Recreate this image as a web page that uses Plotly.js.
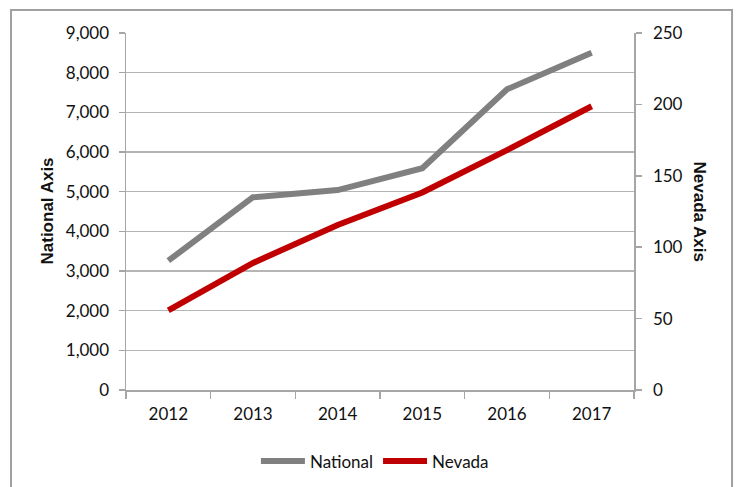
<!DOCTYPE html>
<html>
<head>
<meta charset="utf-8">
<script src="https://cdn.plot.ly/plotly-3.0.1.min.js"></script>
<style>
html,body{margin:0;padding:0;background:#fff;}
#chart{width:737px;height:487px;}
</style>
</head>
<body>
<div id="chart"></div>
<script>
const years = ['2012','2013','2014','2015','2016','2017'];
const national = [3260, 4860, 5040, 5590, 7580, 8500];
const nevada = [55.8, 89, 115.5, 138.3, 168, 198.7];
const leftTicks = [0,1000,2000,3000,4000,5000,6000,7000,8000,9000];
const rightTicks = [0,50,100,150,200,250];

const font = 'Lato, "Open Sans", sans-serif';
const titleFont = {family: '"Liberation Sans", Arial, sans-serif', size: 17, color: '#111', weight: 'bold'};
const axisCol = '#a6a6a6';

const traces = [
  {x: years, y: national, name: 'National', type: 'scatter', mode: 'lines',
   line: {color: '#808080', width: 6}, yaxis: 'y'},
  {x: years, y: nevada, name: 'Nevada', type: 'scatter', mode: 'lines',
   line: {color: '#c00000', width: 6}, yaxis: 'y2'}
];

const layout = {
  width: 737, height: 487,
  margin: {l: 126, r: 103, t: 33, b: 97, autoexpand: false},
  paper_bgcolor: '#fff', plot_bgcolor: '#fff',
  font: {family: font, size: 17, color: '#111'},
  showlegend: true,
  legend: {orientation: 'h', x: 0.49, xanchor: 'center', y: -0.2, yanchor: 'middle',
           itemwidth: 44, font: {family: font, size: 17, color: '#111'}},
  xaxis: {
    type: 'category', range: [-0.5, 5.5], tickson: 'boundaries', ticks: 'outside', ticklen: 7,
    tickcolor: axisCol, tickwidth: 1.5, showgrid: false, showline: true,
    linecolor: axisCol, linewidth: 1.5, zeroline: false, ticklabelstandoff: 8,
    tickfont: {family: font, size: 17, color: '#111'}
  },
  yaxis: {
    range: [0, 9000], tickvals: leftTicks, tickformat: ',d',
    ticks: 'outside', ticklen: 6, tickcolor: axisCol, tickwidth: 1.5,
    showgrid: true, gridcolor: '#b5b5b5', gridwidth: 1.5,
    showline: true, linecolor: axisCol, linewidth: 1.5, zeroline: false,
    ticklabelstandoff: 6,
    tickfont: {family: font, size: 17, color: '#111'}
  },
  yaxis2: {
    range: [0, 250], tickvals: rightTicks, overlaying: 'y', side: 'right',
    ticks: 'outside', ticklen: 6, tickcolor: axisCol, tickwidth: 1.5,
    showgrid: false, showline: true, linecolor: axisCol, linewidth: 1.5, zeroline: false,
    ticklabelstandoff: 8,
    tickfont: {family: font, size: 17, color: '#111'}
  },
  annotations: [
    {text: '<b>National Axis</b>', xref: 'paper', yref: 'paper', x: (47-126)/508, y: 0.5,
     xanchor: 'center', yanchor: 'middle', textangle: -90, showarrow: false, font: titleFont},
    {text: '<b>Nevada Axis</b>', xref: 'paper', yref: 'paper', x: (699-126)/508, y: 0.5,
     xanchor: 'center', yanchor: 'middle', textangle: 90, showarrow: false, font: titleFont}
  ],
  shapes: [{
    type: 'rect', xref: 'paper', yref: 'paper',
    x0: -0.2264, x1: 1.193, y0: -0.35, y1: 1.0644,
    line: {color: '#a0a0a0', width: 2}, fillcolor: 'rgba(0,0,0,0)', layer: 'below'
  }]
};

Plotly.newPlot('chart', traces, layout, {displayModeBar: false, staticPlot: true});
</script>
</body>
</html>
